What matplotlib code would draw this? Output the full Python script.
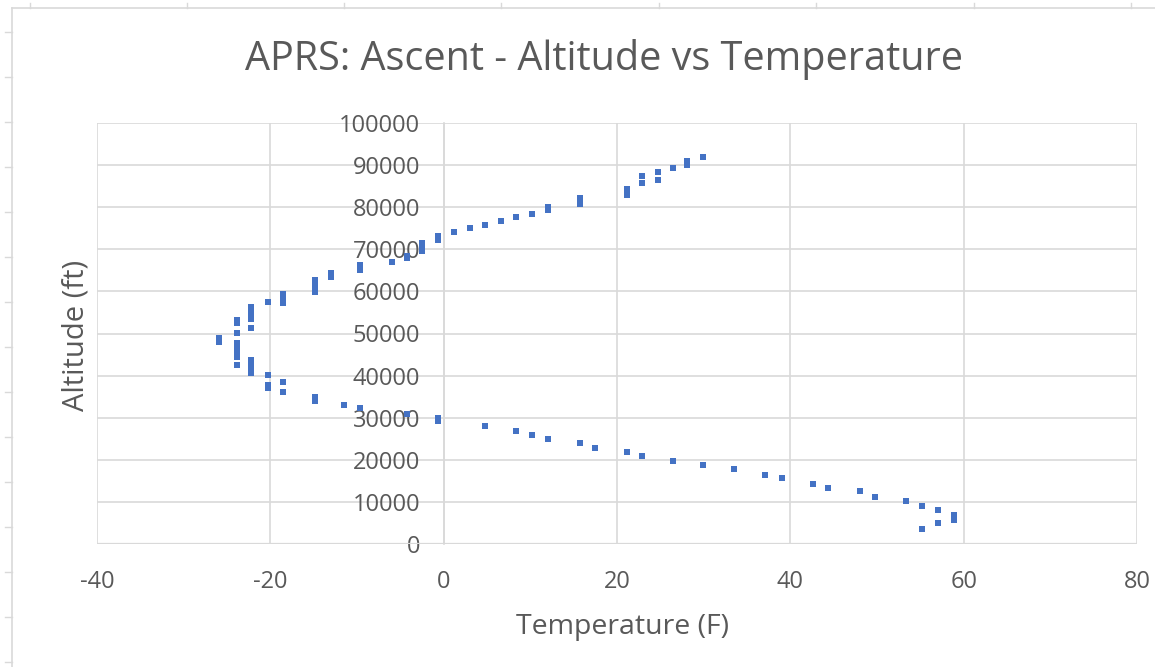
import matplotlib
matplotlib.use("Agg")
import matplotlib.pyplot as plt
from matplotlib.lines import Line2D

temperature_f = [55.2, 57.0, 58.9, 58.9, 58.9, 57.0, 55.2, 53.4, 49.8, 48.0,
                 44.4, 42.6, 39.0, 37.1, 33.5, 29.9, 26.5, 22.9, 21.1, 17.5,
                 15.7, 12.0, 10.2, 8.4, 4.8, -0.6, -0.6, -4.2, -9.7, -11.5,
                 -14.9, -14.9, -18.5, -20.3, -20.3, -18.5, -20.3, -22.2, -22.2, -22.2,
                 -23.9, -22.2, -22.2, -23.9, -23.9, -23.9, -23.9, -23.9, -25.9, -25.9,
                 -23.9, -22.2, -23.9, -23.9, -22.2, -22.2, -22.2, -22.2, -22.2, -18.5,
                 -20.3, -18.5, -18.5, -14.9, -14.9, -14.9, -14.9, -13.0, -13.0, -9.7,
                 -9.7, -6.0, -4.2, -4.2, -2.5, -2.5, -2.5, -0.6, -0.6, 1.2,
                 3.0, 4.8, 6.6, 8.4, 10.2, 12.0, 12.0, 15.7, 15.7, 21.1,
                 21.1, 21.1, 22.9, 22.9, 24.7, 24.7, 26.5, 28.1, 28.1, 29.9]
altitude_ft = [3600, 4900, 5700, 6300, 6900, 8100, 9000, 10300, 11200, 12500,
               13400, 14300, 15600, 16500, 17800, 18800, 19600, 21000, 21900, 22700,
               24100, 24900, 25900, 26800, 28100, 29100, 29900, 30800, 32200, 33000,
               34000, 35000, 36200, 37000, 37800, 38500, 40100, 40600, 41100, 42100,
               42500, 42900, 43700, 44400, 45400, 46100, 47000, 47700, 48000, 49000,
               50200, 51400, 52400, 53200, 53400, 54000, 54900, 55600, 56400, 57200,
               57600, 58400, 59500, 59900, 60700, 61900, 62700, 63500, 64300, 65100,
               66300, 66900, 67900, 68500, 69700, 70600, 71500, 72200, 73100, 74000,
               75000, 75800, 76700, 77600, 78500, 79300, 80000, 80700, 82300, 82900,
               83700, 84300, 85700, 87500, 86500, 88400, 89200, 90000, 91000, 92000]

x_ticks = [-40, -20, 0, 20, 40, 60, 80]
y_ticks = [0, 10000, 20000, 30000, 40000, 50000, 60000, 70000, 80000, 90000, 100000]

title = "APRS: Ascent - Altitude vs Temperature"
x_title = "Temperature (F)"
y_title = "Altitude (ft)"

W, H = 1155, 667
plt.rcParams['font.family'] = ['Open Sans', 'DejaVu Sans']
plt.rcParams['axes.unicode_minus'] = False
fig = plt.figure(figsize=(W / 100, H / 100), dpi=100)
ax = fig.add_axes([97 / W, 1 - 544 / H, (1137 - 97) / W, (544 - 123) / H])

grid_c = '#d9d9d9'
text_c = '#595959'

ax.scatter(temperature_f, altitude_ft, s=19, marker='s', color='#4472C4',
           linewidths=0, zorder=3)

ax.set_xlim(-40, 80)
ax.set_ylim(0, 100000)
ax.set_xticks(x_ticks)
ax.set_yticks(y_ticks)
ax.grid(True, color=grid_c, linewidth=1.2, zorder=0)
ax.set_axisbelow(True)

for s in ['top', 'right', 'bottom']:
    ax.spines[s].set_visible(False)
ax.spines['left'].set_position(('data', 0))
ax.spines['left'].set_color(grid_c)
ax.spines['left'].set_linewidth(1.2)
ax.axhline(0, color=grid_c, linewidth=1.6, zorder=1)

ax.tick_params(axis='both', length=0, colors=text_c, labelsize=17)
ax.tick_params(axis='y', pad=17)
ax.tick_params(axis='x', pad=19)

fig.text(604 / W, 1 - 60 / H, title, ha='center', va='center', fontsize=28.5, color=text_c)
fig.text(622 / W, 1 - 627 / H, x_title, ha='center', va='center', fontsize=20.5, color=text_c)
fig.text(76 / W, 1 - 335 / H, y_title, ha='center', va='center', fontsize=21,
         color=text_c, rotation=90)

# worksheet frame artifacts
fig.add_artist(Line2D([12 / W, 12 / W], [0, 1 - 8 / H], transform=fig.transFigure,
                      color=grid_c, linewidth=1.2))
fig.add_artist(Line2D([12 / W, 1], [1 - 8 / H, 1 - 8 / H], transform=fig.transFigure,
                      color=grid_c, linewidth=1.2))
for yy in range(32, 667, 45):
    fig.add_artist(Line2D([5 / W, 12 / W], [1 - yy / H, 1 - yy / H],
                          transform=fig.transFigure, color=grid_c, linewidth=1.0))
for xx in [30, 187, 344, 501, 659, 816, 974, 1131]:
    fig.add_artist(Line2D([xx / W, xx / W], [1 - 3 / H, 1 - 8 / H],
                          transform=fig.transFigure, color=grid_c, linewidth=1.0))

fig.savefig('out.png', dpi=100, facecolor='white')
